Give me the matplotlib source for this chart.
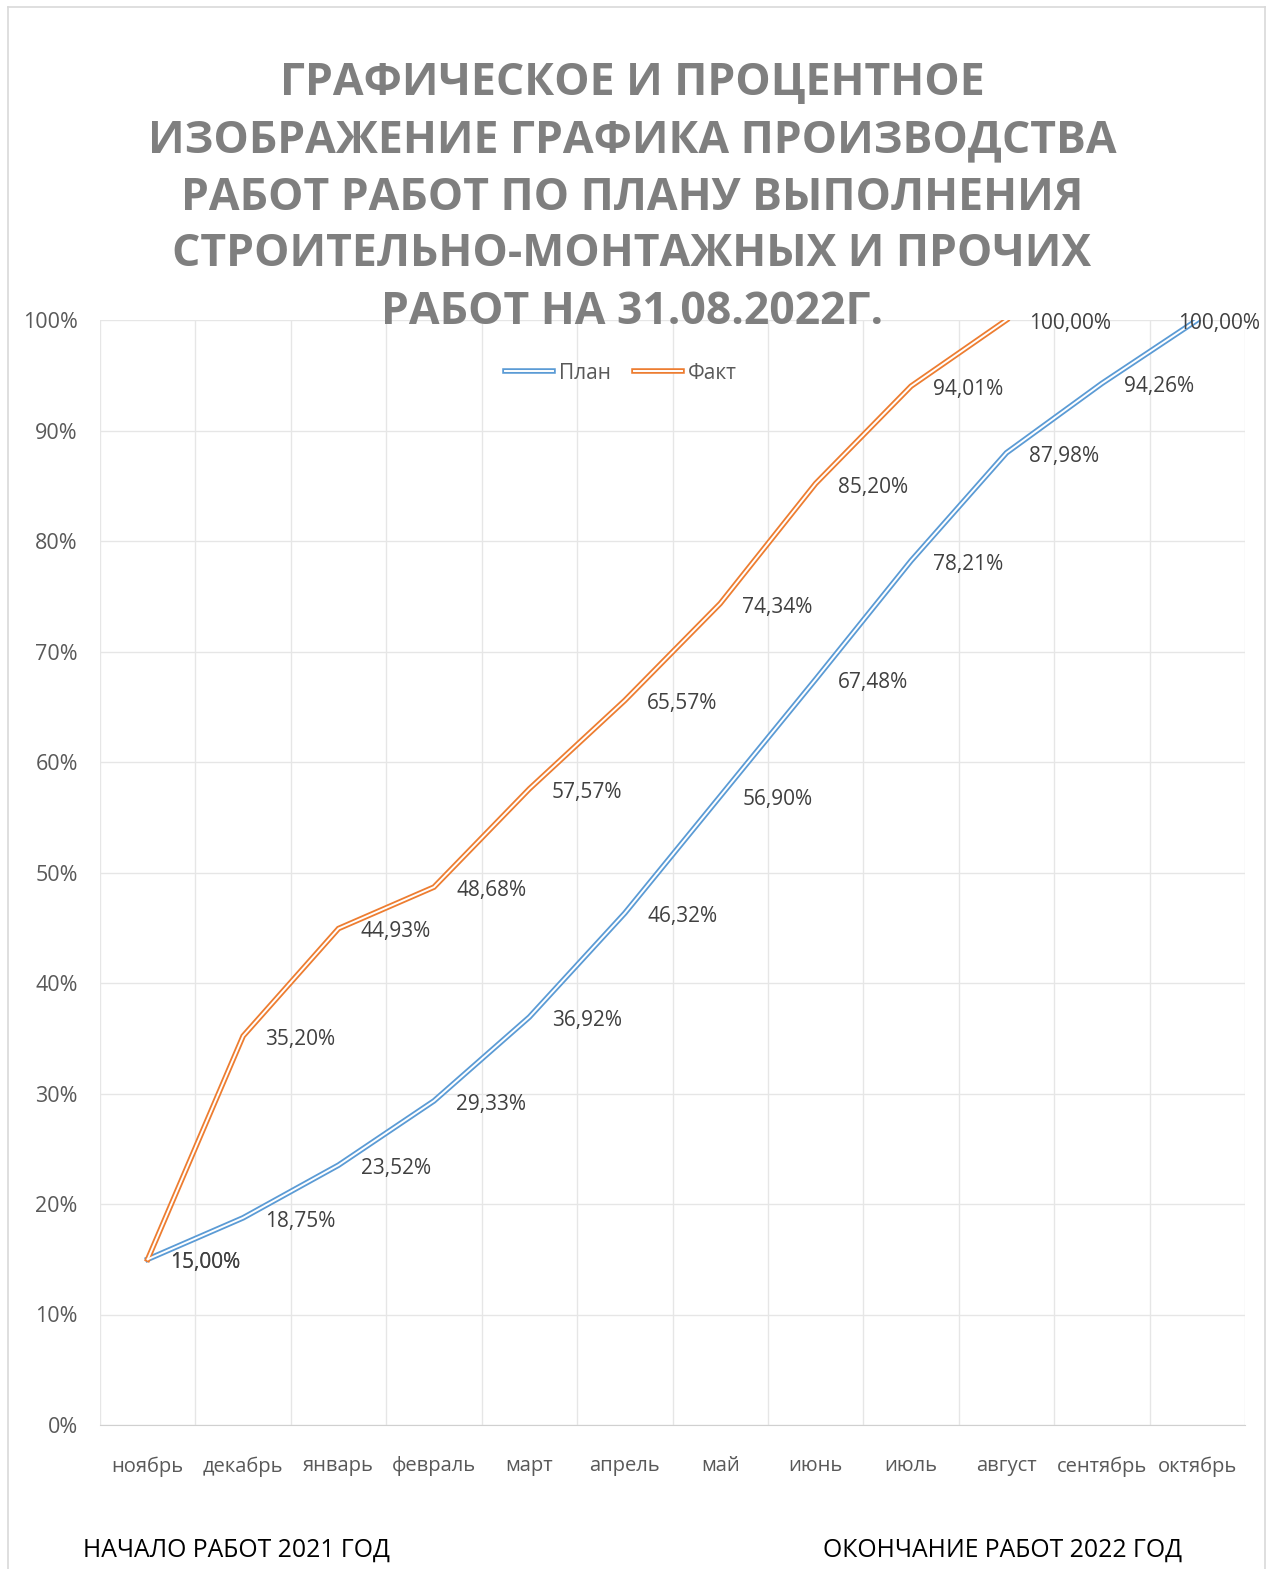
import matplotlib.pyplot as plt
from matplotlib.legend_handler import HandlerTuple
from matplotlib.lines import Line2D

months = ['ноябрь', 'декабрь', 'январь', 'февраль', 'март', 'апрель', 'май',
          'июнь', 'июль', 'август', 'сентябрь', 'октябрь']
plan = [15.00, 18.75, 23.52, 29.33, 36.92, 46.32, 56.90, 67.48, 78.21, 87.98, 94.26, 100.00]
fact = [15.00, 35.20, 44.93, 48.68, 57.57, 65.57, 74.34, 85.20, 94.01, 100.00]

title_lines = ['ГРАФИЧЕСКОЕ И ПРОЦЕНТНОЕ',
               'ИЗОБРАЖЕНИЕ ГРАФИКА ПРОИЗВОДСТВА',
               'РАБОТ РАБОТ ПО ПЛАНУ ВЫПОЛНЕНИЯ',
               'СТРОИТЕЛЬНО-МОНТАЖНЫХ И ПРОЧИХ',
               'РАБОТ НА 31.08.2022Г.']

plt.rcParams['font.family'] = ['Open Sans', 'DejaVu Sans']

W, H = 1271, 1569
fig = plt.figure(figsize=(W / 100, H / 100), dpi=100)

# рамка диаграммы (низ уходит за край)
for xs, ys in [([8, 8], [0, H - 7]), ([8, 1265], [H - 7, H - 7]), ([1265, 1265], [H - 7, 0])]:
    fig.add_artist(Line2D([x / W for x in xs], [y / H for y in ys], color='#d9d9d9', lw=1.2))

ax = fig.add_axes([100 / W, 144 / H, 1145 / W, 1105 / H])
ax.set_xlim(-0.5, 11.5)
ax.set_ylim(0, 100)

blue = '#5b9bd5'
orange = '#ed7d31'
LW, LW_IN = 4.0, 1.4


def double_line(x, y, color):
    ax.plot(x, y, color=color, lw=LW, solid_joinstyle='miter', zorder=3)
    ax.plot(x, y, color='white', lw=LW_IN, solid_joinstyle='miter', zorder=4)


double_line(range(len(plan)), plan, blue)
double_line(range(len(fact)), fact, orange)


def label(i, v, dx):
    ax.annotate(f'{v:.2f}%'.replace('.', ','), (i, v), xytext=(dx, -2.5), textcoords='offset points',
                va='center', ha='left', fontsize=15, color='#404040', zorder=5,
                annotation_clip=False)


for i, v in enumerate(plan):
    # последняя подпись сдвинута влево, чтобы не выйти за рамку
    label(i, v, -14 if i == len(plan) - 1 else 16)
for i, v in enumerate(fact):
    label(i, v, 16)

ax.set_yticks(range(0, 101, 10))
ax.set_yticklabels([f'{t}%' for t in range(0, 101, 10)])
ax.set_xticks(range(len(months)))
ax.set_xticklabels(months)
ax.set_xticks([k - 0.5 for k in range(13)], minor=True)
ax.tick_params(axis='both', length=0, labelcolor='#595959')
ax.tick_params(axis='x', which='major', pad=22.5, labelsize=14.5)
ax.tick_params(axis='y', pad=16, labelsize=15.5)
ax.tick_params(axis='x', which='minor', length=0)
ax.grid(axis='y', color='#e6e6e6', lw=1)
ax.grid(axis='x', which='minor', color='#e6e6e6', lw=1)
ax.grid(axis='x', which='major', visible=False)
for s in ['top', 'right', 'left']:
    ax.spines[s].set_visible(False)
ax.spines['bottom'].set_color('#d0d0d0')

h_plan = (Line2D([], [], color=blue, lw=LW), Line2D([], [], color='white', lw=LW_IN))
h_fact = (Line2D([], [], color=orange, lw=LW), Line2D([], [], color='white', lw=LW_IN))
leg = ax.legend([h_plan, h_fact], ['План', 'Факт'], handler_map={tuple: HandlerTuple(ndivide=1)},
                loc='center', bbox_to_anchor=(0.455, 0.952), ncol=2, frameon=False,
                fontsize=15, handlelength=2.3, columnspacing=1.1, handletextpad=0.3)
for t in leg.get_texts():
    t.set_color('#595959')

# заголовок построчно
for k, line in enumerate(title_lines):
    fig.text(632 / W, 1 - (84 + 57 * k) / H, line, ha='center', va='center', fontsize=32,
             fontweight='bold', color='#7f7f7f')

fig.text(83 / W, 1 - 1550 / H, 'НАЧАЛО РАБОТ 2021 ГОД', ha='left', va='center', fontsize=17.8, color='black')
fig.text(823 / W, 1 - 1550 / H, 'ОКОНЧАНИЕ РАБОТ 2022 ГОД', ha='left', va='center', fontsize=17.8, color='black')

fig.savefig('out.png', dpi=100, facecolor='white')
